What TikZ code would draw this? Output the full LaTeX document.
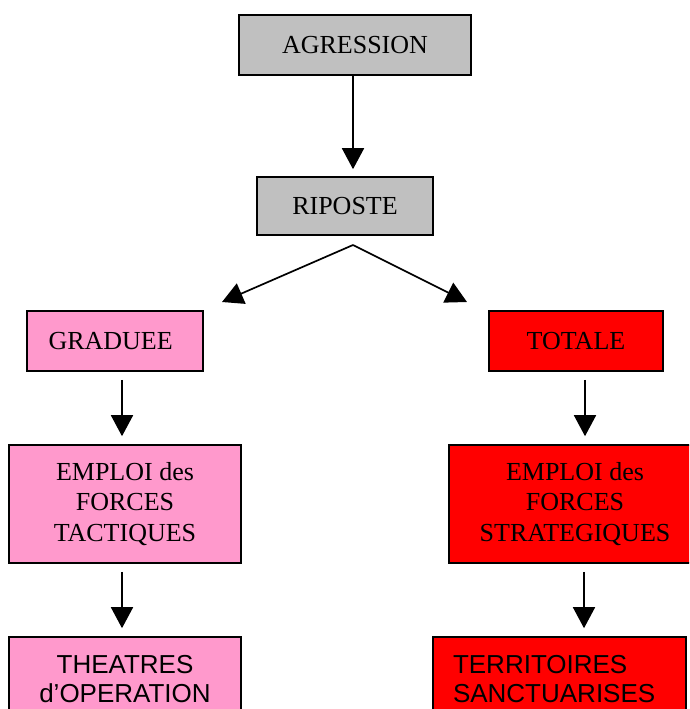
\documentclass[tikz,border=0pt]{standalone}
\usepackage{fontspec}
\setmainfont{Liberation Serif}
\newfontfamily\arialf{Liberation Sans}
\usetikzlibrary{arrows.meta}
\definecolor{boxgray}{HTML}{C0C0C0}
\definecolor{boxpink}{HTML}{FF99CC}
\definecolor{boxred}{HTML}{FF0000}
\begin{document}
\begin{tikzpicture}[x=1pt,y=-1pt,
  box/.style={draw=black,line width=1.6pt,rectangle,inner sep=0pt,align=center,
    font=\fontsize{26}{30.5}\selectfont},
  sansbox/.style={box,font=\arialf\fontsize{26}{29}\selectfont},
  arr/.style={line width=1.7pt,-{Triangle[width=22pt,length=21pt]}}]
\useasboundingbox (0,0) rectangle (689,709);
\clip (0,0) rectangle (689,709);
\node[box,fill=boxgray,minimum width=232pt,minimum height=60pt] (agr) at (355,45) {AGRESSION};
\node[box,fill=boxgray,minimum width=176pt,minimum height=58pt] (rip) at (345,206) {RIPOSTE};
\node[box,fill=boxpink,minimum width=176pt,minimum height=60pt] (gra) at (115,341) {GRADUEE\,\,};
\node[box,fill=boxred,minimum width=174pt,minimum height=60pt] (tot) at (576,341) {TOTALE};
\node[box,fill=boxpink,minimum width=232pt,minimum height=118pt] (etac) at (125,504) {EMPLOI des\\FORCES\\TACTIQUES};
\node[box,fill=boxred,minimum width=252pt,minimum height=118pt] (estr) at (575,504) {EMPLOI des\\FORCES\\STRATEGIQUES};
\node[sansbox,fill=boxpink,minimum width=232pt,minimum height=85pt] (the) at (125,679.5) {THEATRES\\d’OPERATION};
\node[sansbox,fill=boxred,minimum width=253pt,text width=213pt,inner xsep=20pt,align=left,minimum height=85pt] (ter) at (559.5,679.5) {TERRITOIRES\\SANCTUARISES};
\coordinate (r0) at (353,245);
\coordinate (rl) at (222,302);
\coordinate (rr) at (467,302);
\draw[arr] (agr.south -| r0) -- ([yshift=7pt]rip.north -| r0);
\draw[arr] (r0) -- (rl);
\draw[arr] (r0) -- (rr);
\draw[arr] ([yshift=-8pt]gra.south -| 122,0) -- ([yshift=8pt]etac.north -| 122,0);
\draw[arr] ([yshift=-8pt]tot.south -| 585,0) -- ([yshift=8pt]estr.north -| 585,0);
\draw[arr] ([yshift=-8pt]etac.south -| 122,0) -- ([yshift=8pt]the.north -| 122,0);
\draw[arr] ([yshift=-8pt]estr.south -| 584,0) -- ([yshift=8pt]ter.north -| 584,0);
\end{tikzpicture}
\end{document}
